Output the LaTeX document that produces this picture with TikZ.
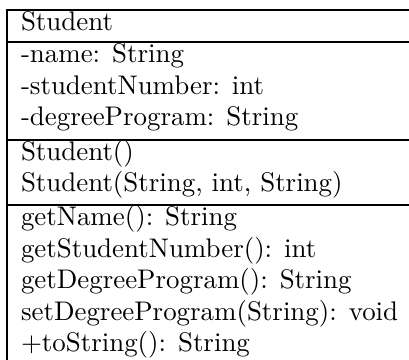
\documentclass[tikz,border=0pt]{standalone}
\begin{document}
\begin{tikzpicture}[x=0.3717pt,y=-0.3717pt,
  rowtext/.style={anchor=base west,inner sep=0pt,outer sep=0pt,font=\fontsize{10pt}{12pt}\selectfont},
  rule/.style={line width=0.8pt,line cap=rect}]
\useasboundingbox (0,0) rectangle (409,360);
\begin{scope}
\clip (0,0) rectangle (409,360);
\draw[rule] (7,10) -- (420,10);
\draw[rule] (7,10) -- (7,370);
\draw[rule] (7,42) -- (420,42);
\draw[rule] (7,140) -- (420,140);
\draw[rule] (7,205) -- (420,205);
\end{scope}
\node[rowtext] (cls) at (21,31) {Student};
\node[rowtext] (a1) at (21,63) {-name: String};
\node[rowtext] (a2) at (21,95) {-studentNumber: int};
\node[rowtext] (a3) at (21,126) {-degreeProgram: String};
\node[rowtext] (c1) at (21,161) {Student()};
\node[rowtext] (c2) at (21,192) {Student(String, int, String)};
\node[rowtext] (m1) at (21,226) {getName(): String};
\node[rowtext] (m2) at (21,257.5) {getStudentNumber(): int};
\node[rowtext] (m3) at (21,289) {getDegreeProgram(): String};
\node[rowtext] (m4) at (21,320.5) {setDegreeProgram(String): void};
\node[rowtext] (m5) at (21,352) {+toString(): String};
\end{tikzpicture}
\end{document}
